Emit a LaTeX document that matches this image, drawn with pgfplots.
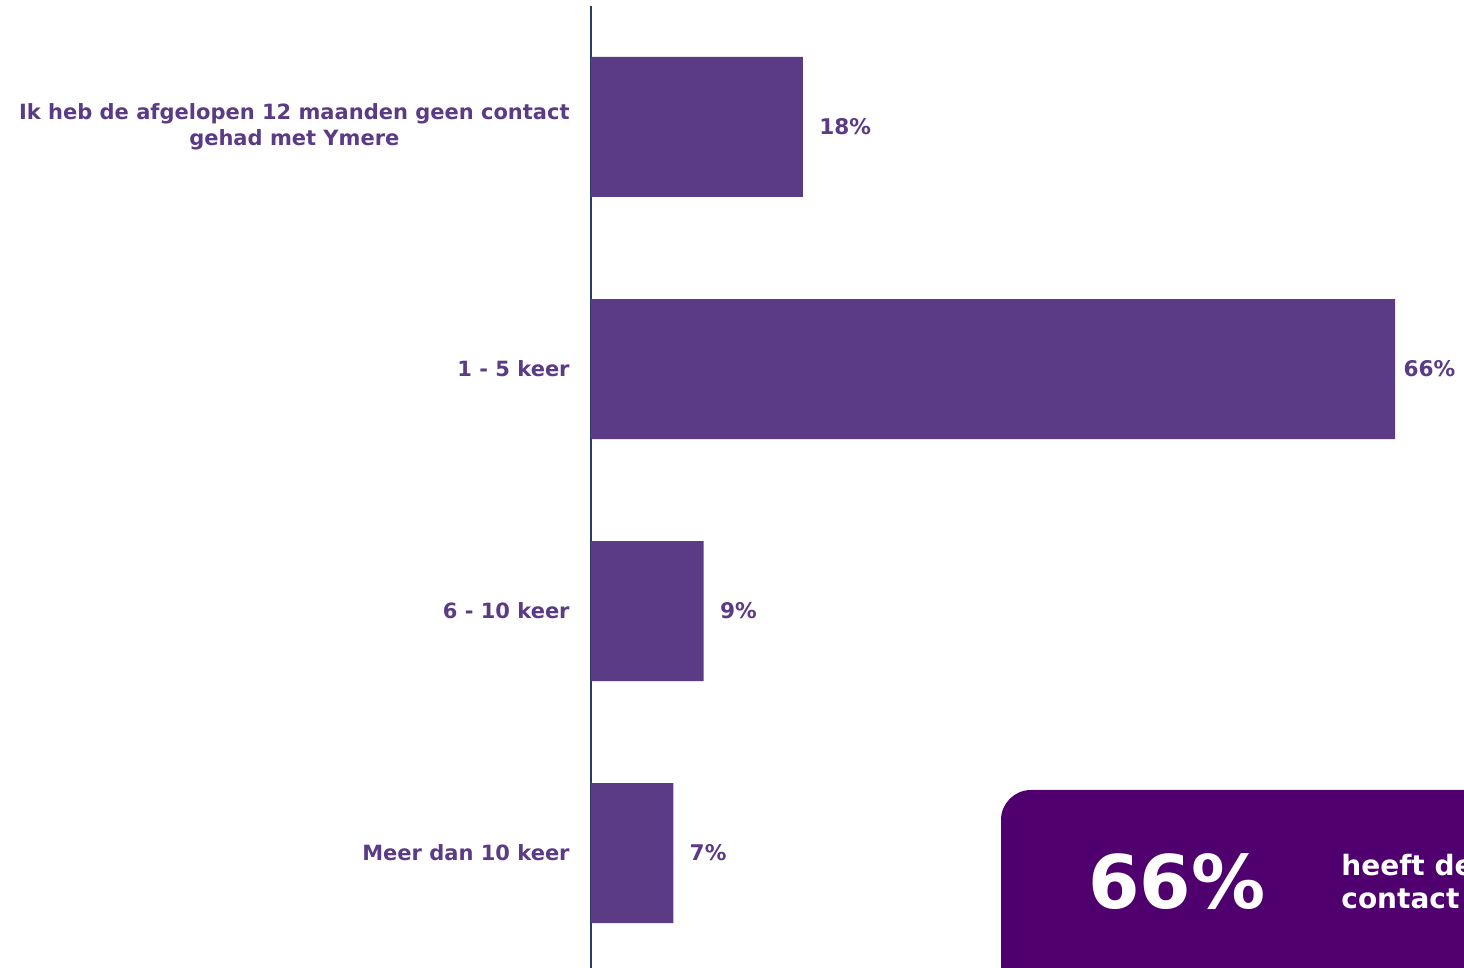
\documentclass[border=0pt]{standalone}
\usepackage{pgfplots}
\pgfplotsset{compat=1.18}
\usepackage{fontspec}
\setmainfont{DejaVu Sans}
\definecolor{barc}{HTML}{5B3B85}
\definecolor{axc}{HTML}{243F60}
\definecolor{boxc}{HTML}{4F006E}
\begin{document}
\begin{tikzpicture}
\useasboundingbox (0,0) rectangle (732pt,484pt);
\begin{axis}[
  at={(295.5pt,0pt)}, anchor=south west,
  scale only axis, width=423.85pt, height=481pt,
  xmin=0, xmax=70, ymin=-0.475, ymax=3.5,
  axis x line=none, axis y line*=left,
  axis line style={axc, line width=1pt, -},
  ytick={0,1,2,3},
  yticklabels={Meer dan 10 keer, 6 - 10 keer, 1 - 5 keer, {Ik heb de afgelopen 12 maanden geen contact\\gehad met Ymere}},
  major tick length=0pt,
  yticklabel style={font=\bfseries\fontsize{10.5}{13}\selectfont, text=barc, align=center, inner sep=0pt, xshift=-10.5pt},
  xbar, bar width=70pt,
  point meta=x,
  visualization depends on={x \as \rawx},
  nodes near coords={\pgfmathprintnumber[fixed,precision=0,assume math mode=true]{\pgfplotspointmeta}\%},
  nodes near coords style={font=\bfseries\fontsize{10.8}{12}\selectfont, text=barc, inner sep=0pt, anchor=west, xshift={8-4*(\rawx>60)}},
]
\addplot[draw=none, fill=barc] coordinates {(17.5,3) (66.4,2) (9.3,1) (6.8,0)};
\end{axis}
\begin{scope}
\clip (0,0) rectangle (732pt,484pt);
\fill[boxc, rounded corners=15pt] (500.5pt,-20pt) rectangle (800pt,89pt);
\node[text=white, font=\bfseries\fontsize{37}{40}\selectfont, inner sep=0pt] at (588.5pt,43pt) {66\%};
\node[text=white, font=\bfseries\fontsize{14}{16.5}\selectfont, align=left, inner sep=0pt, anchor=west] at (670.5pt,43pt) {heeft de\\contact};
\end{scope}
\end{tikzpicture}
\end{document}
